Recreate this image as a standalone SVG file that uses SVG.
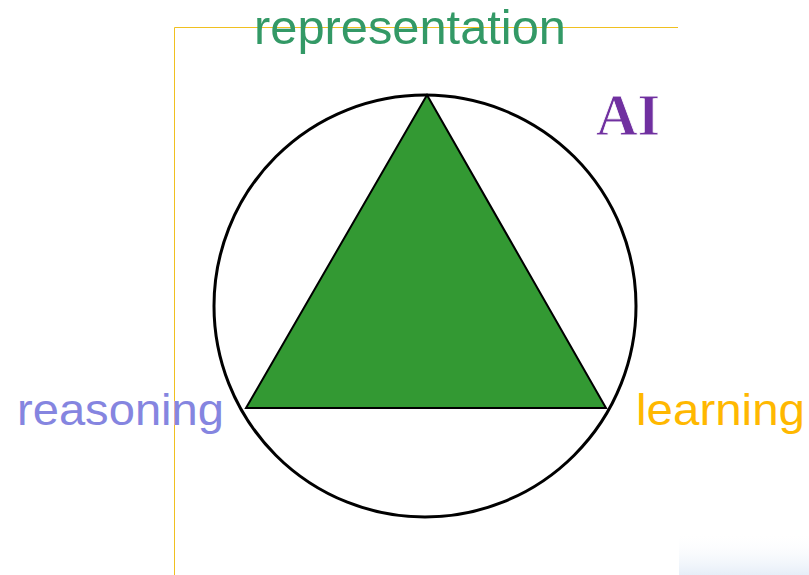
<svg xmlns="http://www.w3.org/2000/svg" width="809" height="575" viewBox="0 0 809 575">
<style>
.lbl{font-family:"Liberation Sans","DejaVu Sans",sans-serif;}
</style>
<defs>
<linearGradient id="fade" x1="0" y1="0" x2="0" y2="1">
<stop offset="0" stop-color="#ffffff" stop-opacity="0"/>
<stop offset="1" stop-color="#e6eef8" stop-opacity="1"/>
</linearGradient>
</defs>
<rect width="809" height="575" fill="#ffffff"/>
<rect x="679" y="532" width="130" height="43" fill="url(#fade)"/>
<g id="frame">
<polyline points="174.5,575 174.5,27.5 678,27.5" fill="none" stroke="#f0c020" stroke-width="1"/>
</g>
<g id="circle">
<circle cx="425" cy="306" r="211" fill="none" stroke="#000" stroke-width="3"/>
</g>
<g id="triangle">
<polygon points="427,95 246,408 606,408" fill="#339933" stroke="#000" stroke-width="2" stroke-linejoin="miter"/>
</g>
<g id="representation">
<text class="lbl" x="254" y="44" font-size="48" fill="#339966" textLength="312" lengthAdjust="spacingAndGlyphs">representation</text>
</g>
<g id="reasoning">
<text class="lbl" x="17" y="425" font-size="45" fill="#8585E0" textLength="207" lengthAdjust="spacingAndGlyphs">reasoning</text>
</g>
<g id="learning">
<text class="lbl" x="636" y="425" font-size="45" fill="#FFB800" textLength="169" lengthAdjust="spacingAndGlyphs">learning</text>
</g>
<g id="ai">
<text x="596" y="135" font-family="Liberation Serif, serif" font-weight="bold" font-size="60" fill="#7030A0" stroke="#ffffff" stroke-width="0.8" textLength="64" lengthAdjust="spacingAndGlyphs">AI</text>
</g>
</svg>
